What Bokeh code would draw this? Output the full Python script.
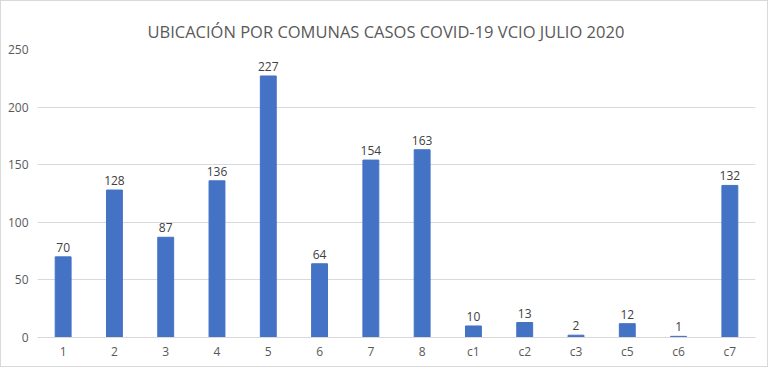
from bokeh.plotting import figure
from bokeh.models import ColumnDataSource, Range1d, FactorRange, LabelSet, SingleIntervalTicker
from bokeh.core.properties import value
from bokeh.embed import file_html
from bokeh.resources import INLINE

categories = ["1", "2", "3", "4", "5", "6", "7", "8", "c1", "c2", "c3", "c5", "c6", "c7"]
cases = [70, 128, 87, 136, 227, 64, 154, 163, 10, 13, 2, 12, 1, 132]
title_text = "UBICACIÓN POR COMUNAS CASOS COVID-19 VCIO JULIO 2020"

src = ColumnDataSource(dict(cat=categories, val=cases, lab=[str(v) for v in cases]))

p = figure(frame_width=718, frame_height=288, x_range=FactorRange(*categories, range_padding=0),
           y_range=Range1d(0, 250), output_backend="svg", toolbar_location=None,
           min_border_left=36, min_border_right=12, min_border_top=48, min_border_bottom=29)

p.title.text = title_text
p.title.align = "left"
p.title.offset = 110
p.title.vertical_align = "middle"
p.title.text_font = "Open Sans"
p.title.text_font_style = "normal"
p.title.text_font_size = "16.5px"
p.title.text_color = "#595959"
p.title.standoff = 11

p.vbar(x="cat", top="val", width=0.31, source=src, color="#4472C4")

labels = LabelSet(x="cat", y="val", text="lab", source=src, text_align="center",
                  text_baseline="bottom", y_offset=5, text_font_size=value("12px"),
                  text_color="#404040", text_font=value("Open Sans"))
p.add_layout(labels)

p.outline_line_color = None
p.xgrid.grid_line_color = None
p.ygrid.grid_line_color = "#d9d9d9"
p.yaxis.ticker = SingleIntervalTicker(interval=50)
p.yaxis.axis_line_color = None
p.xaxis.axis_line_color = "#d9d9d9"
for ax in (p.xaxis, p.yaxis):
    ax.major_tick_line_color = None
    ax.minor_tick_line_color = None
    ax.major_tick_out = 0
    ax.major_tick_in = 0
    ax.minor_tick_out = 0
    ax.major_label_text_font = "Open Sans"
    ax.major_label_text_font_size = "12px"
    ax.major_label_text_color = "#595959"
p.xaxis.major_label_standoff = 5
p.yaxis.major_label_standoff = 9
p.styles = {"border": "1px solid #d9d9d9"}

open("out.html", "w").write(file_html(p, INLINE))
